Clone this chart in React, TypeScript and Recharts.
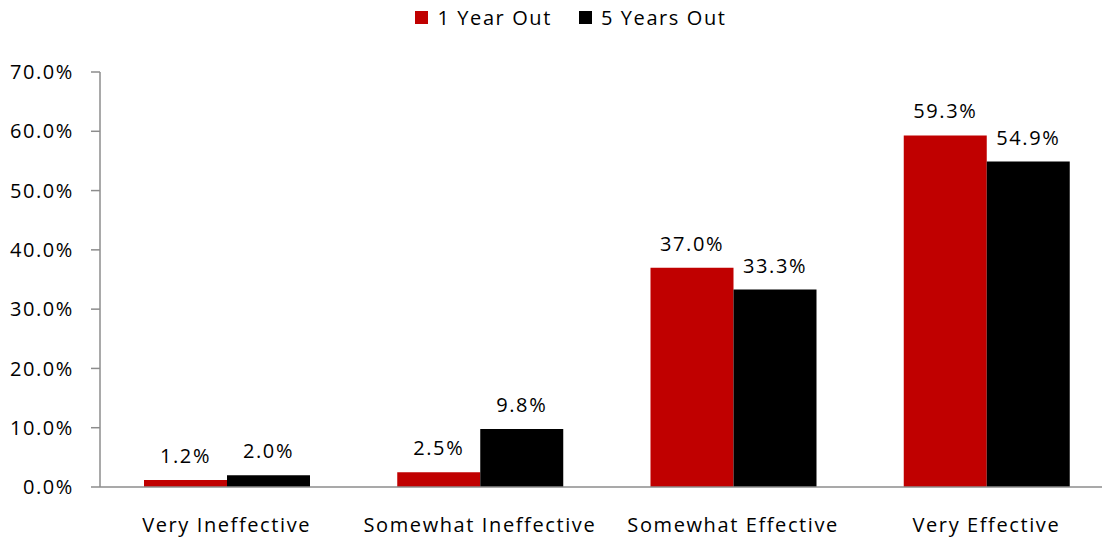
import { BarChart, Bar, XAxis, YAxis, Legend, LabelList } from "recharts";

const categories = ["Very Ineffective", "Somewhat Ineffective", "Somewhat Effective", "Very Effective"];
const oneYearOut = [1.2, 2.5, 37.0, 59.3];
const fiveYearsOut = [2.0, 9.8, 33.3, 54.9];
const yTicks = [0, 10, 20, 30, 40, 50, 60, 70];

const seriesNames = ["1 Year Out", "5 Years Out"];
const seriesColors = ["#C00000", "#000000"];

const chartData = categories.map((name, i) => ({
  name,
  oneYear: oneYearOut[i],
  fiveYears: fiveYearsOut[i],
}));

const font = "'Open Sans', sans-serif";
const textStyle = { fontFamily: font, fontSize: 20, letterSpacing: 1.6, fill: "#000" };
const pct = (v: number) => `${Number(v).toFixed(1)}%`;

function LegendRow() {
  return (
    <div style={{ display: "flex", justifyContent: "center", fontFamily: font, fontSize: 20, letterSpacing: 1.6, color: "#000" }}>
      {seriesNames.map((s, i) => (
        <div key={s} style={{ display: "flex", alignItems: "center", marginLeft: i ? 27 : 0 }}>
          <span style={{ width: 13, height: 13, background: seriesColors[i], marginRight: 9, display: "inline-block" }} />
          <span>{s}</span>
        </div>
      ))}
    </div>
  );
}

export default function App() {
  return (
    <div style={{ position: "absolute", left: 0, top: 0, width: 1102, height: 542, overflow: "hidden", background: "#fff" }}>
      <BarChart
        width={1120}
        height={542}
        data={chartData}
        margin={{ top: 42, right: 7, bottom: 0, left: 0 }}
        barCategoryGap={44}
        barGap={0}
      >
        <Legend
          verticalAlign="top"
          content={() => <LegendRow />}
          wrapperStyle={{ position: "absolute", top: 4, left: 20, width: 1102, height: 30 }}
        />
        <XAxis
          dataKey="name"
          tickLine={false}
          tickSize={0}
          tickMargin={31}
          height={55}
          axisLine={{ stroke: "#8c8c8c", strokeWidth: 1.5 }}
          tick={textStyle}
          interval={0}
        />
        <YAxis
          domain={[0, 70]}
          ticks={yTicks}
          width={100}
          tickSize={9}
          tickMargin={17}
          tickFormatter={pct}
          axisLine={{ stroke: "#8c8c8c", strokeWidth: 1.5 }}
          tickLine={{ stroke: "#8c8c8c", strokeWidth: 1.5 }}
          tick={textStyle}
          interval={0}
        />
        <Bar dataKey="oneYear" name={seriesNames[0]} fill={seriesColors[0]} isAnimationActive={false}>
          <LabelList dataKey="oneYear" position="top" offset={17} formatter={pct} style={textStyle} />
        </Bar>
        <Bar dataKey="fiveYears" name={seriesNames[1]} fill={seriesColors[1]} isAnimationActive={false}>
          <LabelList dataKey="fiveYears" position="top" offset={17} formatter={pct} style={textStyle} />
        </Bar>
      </BarChart>
    </div>
  );
}
